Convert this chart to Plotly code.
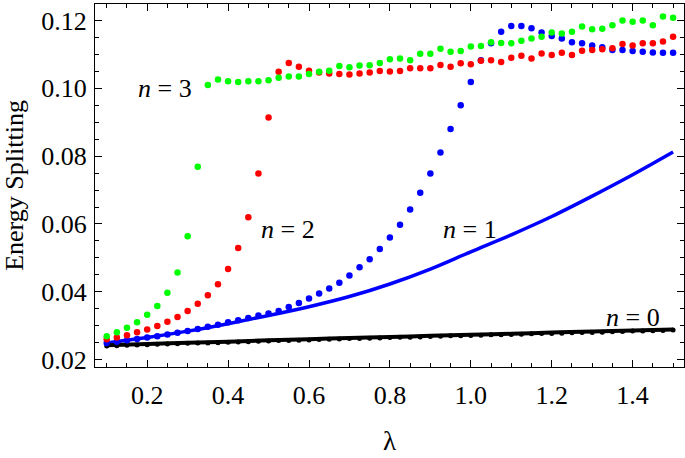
import plotly.graph_objects as go

# λ grid of the numerical points (step 0.025 from 0.1 to 1.5)
lam_pts = [round(0.1 + 0.025 * i, 3) for i in range(57)]

n0_dots = [0.0240, 0.0241, 0.0242, 0.0243, 0.0244, 0.0245, 0.0246, 0.0247, 0.0248, 0.0249,
           0.0249, 0.0250, 0.0251, 0.0252, 0.0253, 0.0254, 0.0255, 0.0256, 0.0256, 0.0257,
           0.0258, 0.0259, 0.0260, 0.0261, 0.0262, 0.0262, 0.0263, 0.0264, 0.0265, 0.0266,
           0.0266, 0.0267, 0.0268, 0.0269, 0.0270, 0.0270, 0.0271, 0.0272, 0.0273, 0.0273,
           0.0274, 0.0275, 0.0276, 0.0277, 0.0277, 0.0278, 0.0279, 0.0280, 0.0280, 0.0281,
           0.0282, 0.0283, 0.0284, 0.0284, 0.0285, 0.0286, 0.0287]

n1_dots = [0.0249, 0.0253, 0.0257, 0.0261, 0.0265, 0.0269, 0.0274, 0.0279, 0.0284, 0.0290,
           0.0297, 0.0303, 0.0310, 0.0316, 0.0323, 0.0330, 0.0336, 0.0343, 0.0355, 0.0367,
           0.0380, 0.0395, 0.0410, 0.0427, 0.0448, 0.0472, 0.0496, 0.0526, 0.0560, 0.0598,
           0.0643, 0.0692, 0.0749, 0.0811, 0.0880, 0.0950, 0.1019, 0.1083, 0.1133, 0.1167,
           0.1184, 0.1184, 0.1177, 0.1165, 0.1154, 0.1147, 0.1136, 0.1133, 0.1126, 0.1121,
           0.1113, 0.1113, 0.1110, 0.1108, 0.1106, 0.1105, 0.1105]

n2_dots = [0.0260, 0.0265, 0.0272, 0.0281, 0.0289, 0.0299, 0.0312, 0.0326, 0.0343, 0.0365,
           0.0390, 0.0422, 0.0467, 0.0529, 0.0620, 0.0749, 0.0914, 0.1049, 0.1075, 0.1064,
           0.1052, 0.1047, 0.1044, 0.1042, 0.1041, 0.1044, 0.1047, 0.1051, 0.1050, 0.1051,
           0.1059, 0.1059, 0.1059, 0.1069, 0.1064, 0.1074, 0.1071, 0.1081, 0.1083, 0.1078,
           0.1090, 0.1096, 0.1088, 0.1103, 0.1098, 0.1105, 0.1098, 0.1111, 0.1113, 0.1115,
           0.1118, 0.1131, 0.1126, 0.1133, 0.1133, 0.1138, 0.1152]

n3_dots = [0.0269, 0.0281, 0.0294, 0.0310, 0.0332, 0.0358, 0.0397, 0.0457, 0.0564, 0.0769,
           0.1010, 0.1026, 0.1021, 0.1019, 0.1021, 0.1021, 0.1024, 0.1031, 0.1035, 0.1035,
           0.1042, 0.1049, 0.1052, 0.1066, 0.1062, 0.1067, 0.1068, 0.1075, 0.1086, 0.1088,
           0.1083, 0.1102, 0.1102, 0.1117, 0.1108, 0.1110, 0.1123, 0.1125, 0.1136, 0.1134,
           0.1133, 0.1140, 0.1147, 0.1152, 0.1165, 0.1162, 0.1167, 0.1182, 0.1174, 0.1176,
           0.1186, 0.1200, 0.1196, 0.1200, 0.1186, 0.1212, 0.1208]

# analytic curves
lam_line = [0.1, 0.2, 0.3, 0.4, 0.5, 0.6, 0.7, 0.8, 0.9, 1.0, 1.1, 1.2, 1.3, 1.4, 1.5]
n0_line = [0.0242, 0.0246, 0.0250, 0.0253, 0.0257, 0.0260, 0.0264, 0.0267, 0.0270, 0.0273,
           0.0276, 0.0280, 0.0283, 0.0286, 0.0289]
n1_line = [0.0249, 0.0265, 0.0284, 0.0306, 0.0330, 0.0356, 0.0386, 0.0423, 0.0467, 0.0518,
           0.0568, 0.0622, 0.0682, 0.0745, 0.0812]

labels = [("<i>n</i> = 3", 0.245, 0.1000),
          ("<i>n</i> = 2", 0.549, 0.0584),
          ("<i>n</i> = 1", 0.997, 0.0584),
          ("<i>n</i> = 0", 1.400, 0.0325)]

FONT = "Liberation Serif, Times New Roman, DejaVu Serif, serif"

fig = go.Figure()
fig.add_trace(go.Scatter(x=lam_line, y=n1_line, mode="lines", line=dict(color="#0000ff", width=3.5, shape="spline")))
fig.add_trace(go.Scatter(x=lam_line, y=n0_line, mode="lines", line=dict(color="black", width=4, shape="spline")))
fig.add_trace(go.Scatter(x=lam_pts, y=n0_dots, mode="markers", marker=dict(color="black", size=5)))
fig.add_trace(go.Scatter(x=lam_pts, y=n1_dots, mode="markers", marker=dict(color="#0000ff", size=6.5)))
fig.add_trace(go.Scatter(x=lam_pts, y=n2_dots, mode="markers", marker=dict(color="#ff0000", size=6.5)))
fig.add_trace(go.Scatter(x=lam_pts, y=n3_dots, mode="markers", marker=dict(color="#00ff00", size=6.5)))

for txt, lx, ly in labels:
    fig.add_annotation(x=lx, y=ly, text=txt, showarrow=False, xref="x", yref="y",
                       font=dict(family=FONT, size=26, color="black"))

fig.add_annotation(x=-0.137, y=0.5, xref="paper", yref="paper", text="Energy Splitting",
                   xanchor="center", yanchor="middle",
                   textangle=-90, showarrow=False, font=dict(family=FONT, size=26, color="black"))
fig.add_annotation(x=0.5, y=-0.205, xref="paper", yref="paper", text="λ",
                   xanchor="center", yanchor="middle",
                   showarrow=False, font=dict(family=FONT, size=27, color="black"))

axis_common = dict(showline=True, linecolor="black", linewidth=1, mirror="allticks",
                   ticks="inside", ticklen=7, tickwidth=1, tickcolor="black",
                   showgrid=False, zeroline=False,
                   tickfont=dict(family=FONT, size=26, color="black"))

fig.update_xaxes(range=[0.071, 1.527], tickvals=[0.2, 0.4, 0.6, 0.8, 1.0, 1.2, 1.4],
                 ticktext=["0.2", "0.4", "0.6", "0.8", "1.0", "1.2", "1.4"],
                 minor=dict(dtick=0.05, tick0=0, ticks="inside", ticklen=4, tickcolor="black"),
                 ticklabelstandoff=5, **axis_common)
fig.update_yaxes(range=[0.01782, 0.12487], tickvals=[0.02, 0.04, 0.06, 0.08, 0.10, 0.12],
                 ticktext=["0.02", "0.04", "0.06", "0.08", "0.10", "0.12"],
                 minor=dict(dtick=0.005, tick0=0, ticks="inside", ticklen=4, tickcolor="black"),
                 ticklabelstandoff=2, **axis_common)

fig.update_layout(width=685, height=458, margin=dict(l=95, r=1, t=4, b=91),
                  plot_bgcolor="white", paper_bgcolor="white", showlegend=False)

fig.write_html("out.html", config={"displayModeBar": False},
               post_script="document.body.style.margin='0px';")
